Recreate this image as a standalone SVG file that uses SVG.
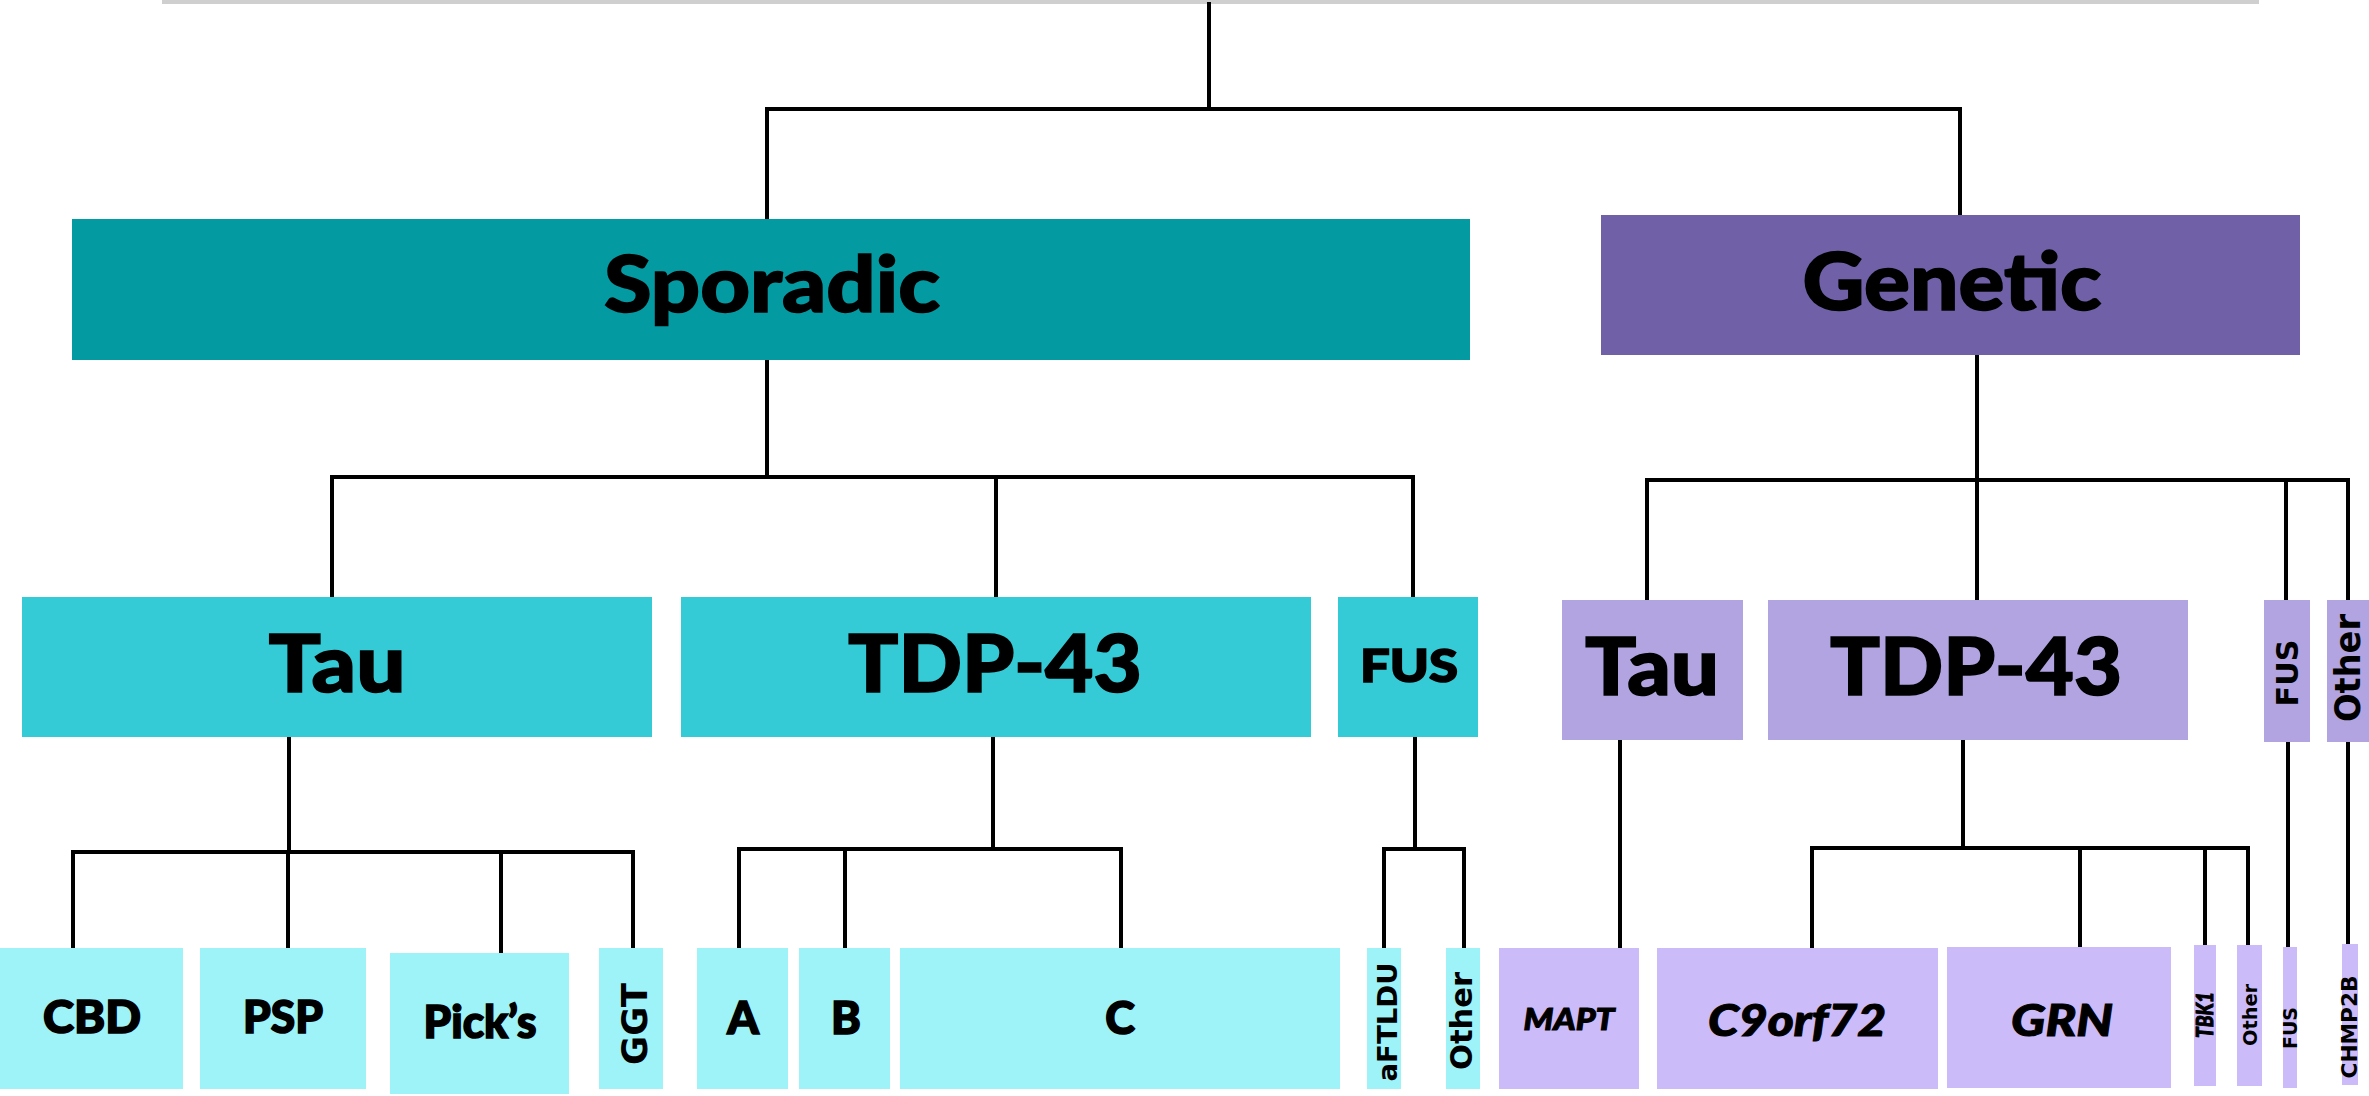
<svg xmlns="http://www.w3.org/2000/svg" width="2369" height="1096" viewBox="0 0 2369 1096">
  <style>
    .lnk { fill: none; stroke: #000; stroke-width: 4; stroke-linecap: square; }
    .spo { fill: #049AA2; }
    .gen { fill: #7060A8; }
    .sp2 { fill: #35CBD6; }
    .sp3 { fill: #9DF3F8; }
    .gn2 { fill: #B1A4E1; }
    .gn3 { fill: #CBBBF8; }
    .gill { font-family: Lato, "Open Sans", "Liberation Sans", sans-serif; font-weight: 900; fill: #000; stroke: #000; stroke-width: 1.6; text-anchor: middle; }
    .gill-i { font-family: Lato, "Open Sans", "Liberation Sans", sans-serif; font-weight: 900; font-style: italic; fill: #000; stroke: #000; stroke-width: 1; text-anchor: middle; }
    .verd { font-family: "DejaVu Sans", Verdana, sans-serif; font-weight: 700; fill: #000; text-anchor: middle; }
  </style>

  <rect id="top-rule" x="162" y="0" width="2097" height="4" fill="#CFCFCF"/>

  <g id="connectors">
    <!-- root split -->
    <path class="lnk" d="M1209 4 V109 M767 109 H1960 M767 109 V219 M1960 109 V215"/>
    <!-- sporadic split -->
    <path class="lnk" d="M767 360 V477 M332 477 H1413 M332 477 V597 M996 477 V597 M1413 477 V597"/>
    <!-- genetic split -->
    <path class="lnk" d="M1977 355 V480 M1647 480 H2348 M1647 480 V600 M1977 480 V600 M2286 480 V600 M2348 480 V600"/>
    <!-- sporadic tau -->
    <path class="lnk" d="M289 737 V852 M73 852 H633 M73 852 V948 M288 852 V948 M501 852 V953 M633 852 V948"/>
    <!-- sporadic TDP-43 -->
    <path class="lnk" d="M993 737 V849 M739 849 H1121 M739 849 V948 M845 849 V948 M1121 849 V948"/>
    <!-- sporadic FUS -->
    <path class="lnk" d="M1415 737 V849 M1384 849 H1464 M1384 849 V948 M1464 849 V948"/>
    <!-- genetic tau -->
    <path class="lnk" d="M1620 740 V948"/>
    <!-- genetic TDP-43 -->
    <path class="lnk" d="M1963 740 V848 M1812 848 H2248 M1812 848 V948 M2080 848 V948 M2205 848 V945 M2248 848 V945"/>
    <!-- genetic FUS / other -->
    <path class="lnk" d="M2288 740 V948 M2348 740 V944"/>
  </g>

  <!-- level 1 -->
  <g id="sporadic">
    <rect class="spo" x="72" y="219" width="1398" height="141"/>
    <text class="gill" x="772" y="312" font-size="79" textLength="336" lengthAdjust="spacingAndGlyphs">Sporadic</text>
  </g>
  <g id="genetic">
    <rect class="gen" x="1601" y="215" width="699" height="140"/>
    <text class="gill" x="1952" y="310" font-size="80" textLength="299" lengthAdjust="spacingAndGlyphs">Genetic</text>
  </g>

  <!-- level 2, sporadic -->
  <g id="sp-tau">
    <rect class="sp2" x="22" y="597" width="630" height="140"/>
    <text class="gill" x="337" y="692" font-size="80" textLength="137" lengthAdjust="spacingAndGlyphs">Tau</text>
  </g>
  <g id="sp-tdp43">
    <rect class="sp2" x="681" y="597" width="630" height="140"/>
    <text class="gill" x="995" y="692" font-size="80" textLength="294" lengthAdjust="spacingAndGlyphs">TDP-43</text>
  </g>
  <g id="sp-fus">
    <rect class="sp2" x="1338" y="597" width="140" height="140"/>
    <text class="gill" x="1409" y="682" font-size="46" textLength="98" lengthAdjust="spacingAndGlyphs">FUS</text>
  </g>

  <!-- level 2, genetic -->
  <g id="gn-tau">
    <rect class="gn2" x="1562" y="600" width="181" height="140"/>
    <text class="gill" x="1652" y="695" font-size="80" textLength="134" lengthAdjust="spacingAndGlyphs">Tau</text>
  </g>
  <g id="gn-tdp43">
    <rect class="gn2" x="1768" y="600" width="420" height="140"/>
    <text class="gill" x="1976" y="695" font-size="80" textLength="292" lengthAdjust="spacingAndGlyphs">TDP-43</text>
  </g>
  <g id="gn-fus">
    <rect class="gn2" x="2264" y="600" width="46" height="142"/>
    <text class="verd" transform="translate(2298 673) rotate(-90)" font-size="30" textLength="67" lengthAdjust="spacingAndGlyphs">FUS</text>
  </g>
  <g id="gn-other">
    <rect class="gn2" x="2327" y="600" width="42" height="142"/>
    <text class="verd" transform="translate(2360 668) rotate(-90)" font-size="35" textLength="108" lengthAdjust="spacingAndGlyphs">Other</text>
  </g>

  <!-- level 3, sporadic -->
  <g id="cbd">
    <rect class="sp3" x="0" y="948" width="183" height="141"/>
    <text class="gill" x="92" y="1033" font-size="45" textLength="98" lengthAdjust="spacingAndGlyphs">CBD</text>
  </g>
  <g id="psp">
    <rect class="sp3" x="200" y="948" width="166" height="141"/>
    <text class="gill" x="283" y="1033" font-size="45" textLength="80" lengthAdjust="spacingAndGlyphs">PSP</text>
  </g>
  <g id="picks">
    <rect class="sp3" x="390" y="953" width="179" height="141"/>
    <text class="gill" x="480" y="1038" font-size="45" textLength="113" lengthAdjust="spacingAndGlyphs">Pick’s</text>
  </g>
  <g id="ggt">
    <rect class="sp3" x="599" y="948" width="64" height="141"/>
    <text class="verd" transform="translate(647 1024) rotate(-90)" font-size="35" textLength="82" lengthAdjust="spacingAndGlyphs">GGT</text>
  </g>
  <g id="tdp-a">
    <rect class="sp3" x="697" y="948" width="91" height="141"/>
    <text class="gill" x="743" y="1034" font-size="45">A</text>
  </g>
  <g id="tdp-b">
    <rect class="sp3" x="799" y="948" width="91" height="141"/>
    <text class="gill" x="846" y="1034" font-size="45">B</text>
  </g>
  <g id="tdp-c">
    <rect class="sp3" x="900" y="948" width="440" height="141"/>
    <text class="gill" x="1120" y="1034" font-size="45">C</text>
  </g>
  <g id="aftldu">
    <rect class="sp3" x="1367" y="948" width="34" height="141"/>
    <text class="verd" transform="translate(1397 1022) rotate(-90)" font-size="27" textLength="119" lengthAdjust="spacingAndGlyphs">aFTLDU</text>
  </g>
  <g id="sp-other">
    <rect class="sp3" x="1446" y="948" width="34" height="141"/>
    <text class="verd" transform="translate(1472 1021) rotate(-90)" font-size="30" textLength="98" lengthAdjust="spacingAndGlyphs">Other</text>
  </g>

  <!-- level 3, genetic -->
  <g id="mapt">
    <rect class="gn3" x="1499" y="948" width="140" height="141"/>
    <text class="gill-i" x="1569" y="1030" font-size="31" textLength="91" lengthAdjust="spacingAndGlyphs">MAPT</text>
  </g>
  <g id="c9orf72">
    <rect class="gn3" x="1657" y="948" width="281" height="141"/>
    <text class="gill-i" x="1797" y="1036" font-size="43" textLength="178" lengthAdjust="spacingAndGlyphs">C9orf72</text>
  </g>
  <g id="grn">
    <rect class="gn3" x="1947" y="947" width="224" height="141"/>
    <text class="gill-i" x="2062" y="1036" font-size="43" textLength="102" lengthAdjust="spacingAndGlyphs">GRN</text>
  </g>
  <g id="tbk1">
    <rect class="gn3" x="2194" y="945" width="22" height="141"/>
    <text class="gill-i" transform="translate(2213 1015) rotate(-90)" font-size="22" textLength="46" lengthAdjust="spacingAndGlyphs" stroke-width="0.5">TBK1</text>
  </g>
  <g id="gn-other3">
    <rect class="gn3" x="2237" y="945" width="25" height="141"/>
    <text class="verd" transform="translate(2257 1015) rotate(-90)" font-size="20" textLength="62" lengthAdjust="spacingAndGlyphs">Other</text>
  </g>
  <g id="gn-fus3">
    <rect class="gn3" x="2283" y="947" width="14" height="141"/>
    <text class="verd" transform="translate(2297 1028) rotate(-90)" font-size="19" textLength="42" lengthAdjust="spacingAndGlyphs">FUS</text>
  </g>
  <g id="chmp2b">
    <rect class="gn3" x="2342" y="944" width="16" height="141"/>
    <text class="verd" transform="translate(2357 1027) rotate(-90)" font-size="21" textLength="103" lengthAdjust="spacingAndGlyphs">CHMP2B</text>
  </g>
</svg>
